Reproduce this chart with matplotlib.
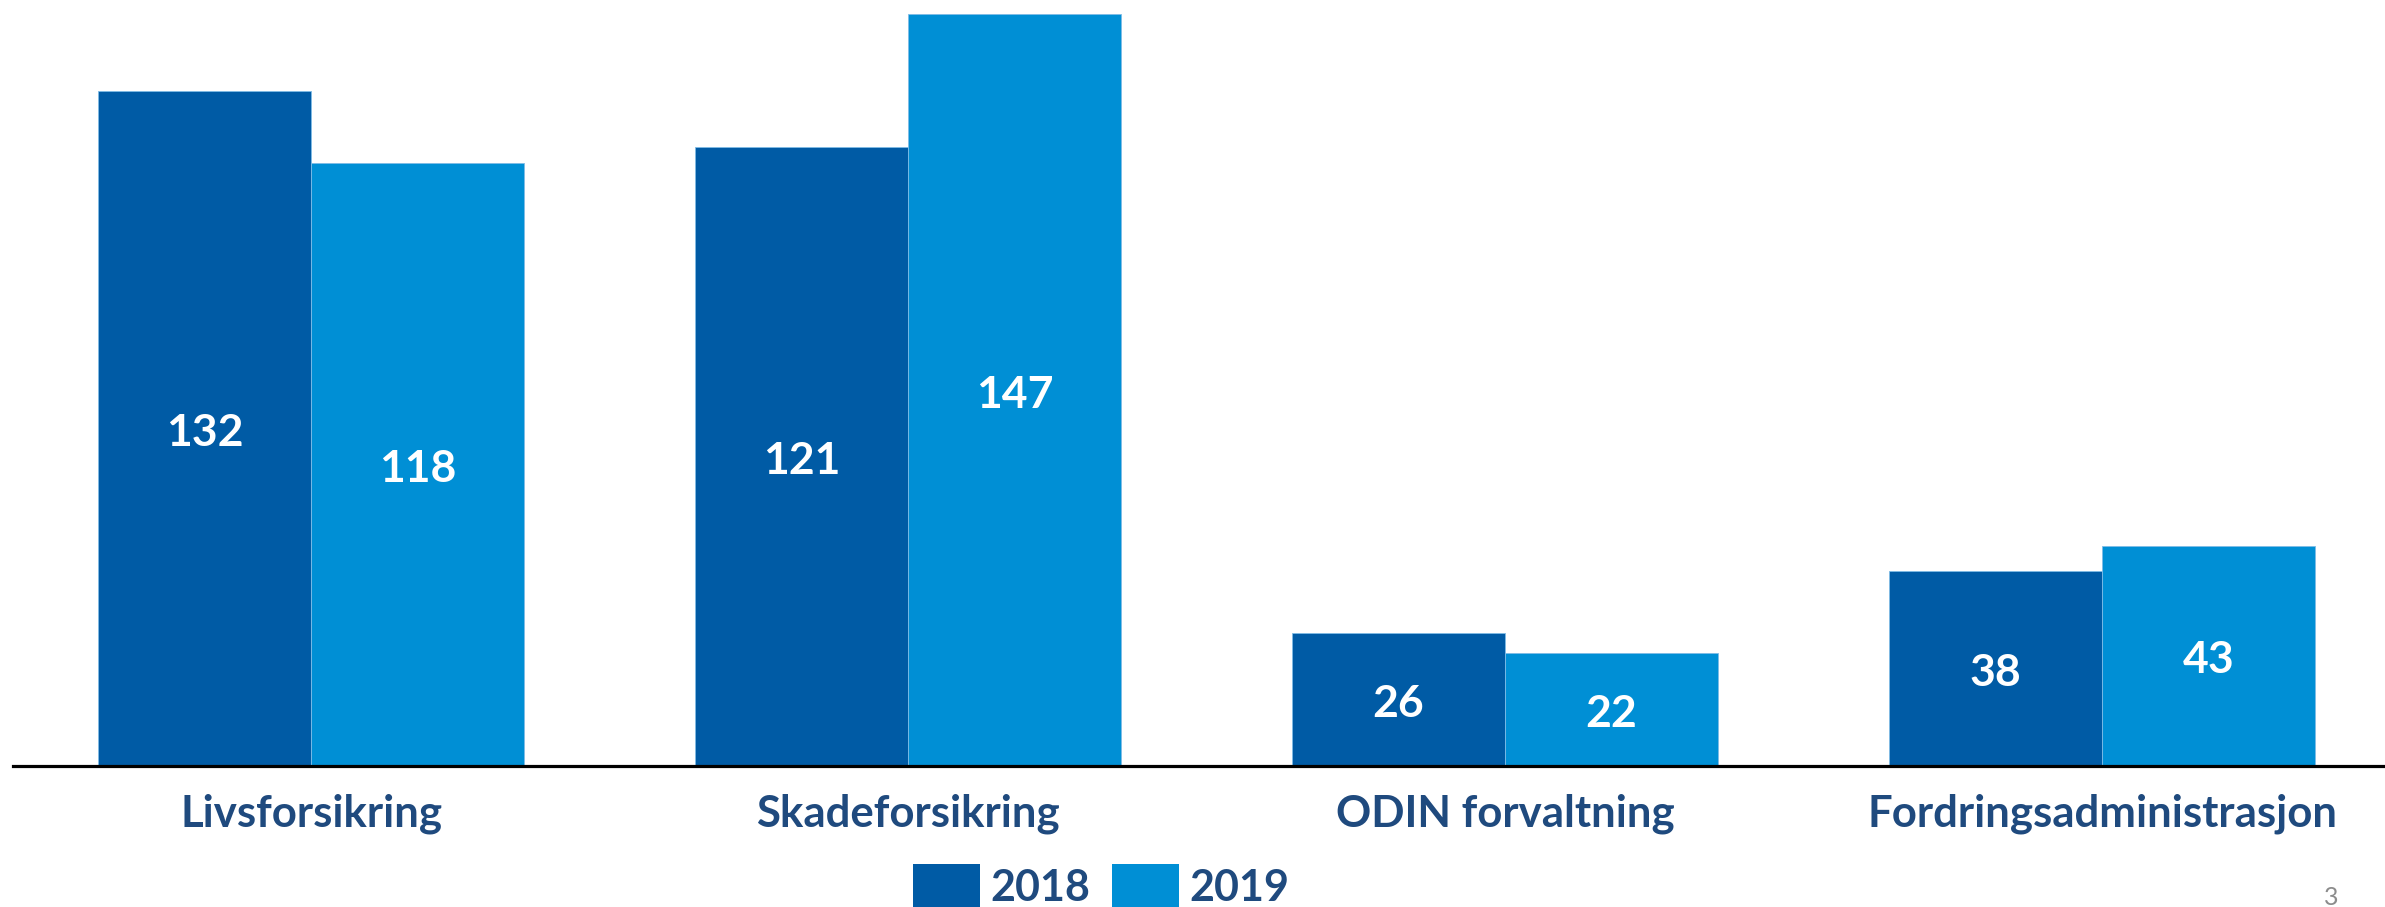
import numpy as np
import matplotlib
matplotlib.use("Agg")
import matplotlib.pyplot as plt
from matplotlib.patches import Patch

# data
categories = ["Livsforsikring", "Skadeforsikring", "ODIN forvaltning", "Fordringsadministrasjon"]
years = ["2018", "2019"]
values_2018 = [132, 121, 26, 38]
values_2019 = [118, 147, 22, 43]

colors = ["#005BA5", "#008FD5"]
text_color = "#1F4A7E"
font = "Lato"

fig = plt.figure(figsize=(23.85, 9.07), dpi=100)
ax = fig.add_axes([12.6 / 2385, 1 - 765.7 / 907, 1 - 12.6 / 2385, 765.7 / 907])

x = np.arange(len(categories))
w = 0.357
for i, (vals, col) in enumerate(zip([values_2018, values_2019], colors)):
    bars = ax.bar(x + (i - 0.5) * w, vals, width=w, color=col,
                  edgecolor="#7fbce6", linewidth=0.6, zorder=2)
    for b, v in zip(bars, vals):
        # label sits a touch below the bar's middle, like the original
        ax.text(b.get_x() + b.get_width() / 2, v / 2 - 0.9, str(v),
                ha="center", va="center", color="white",
                fontsize=32, fontweight="bold", family=font)

ax.set_xlim(-0.5, 3.474)
ax.set_ylim(0, 149.8)
ax.set_yticks([])
ax.set_xticks(x)
ax.set_xticklabels(categories, fontsize=31.5, fontweight="bold",
                   color=text_color, family=font)
ax.tick_params(axis="x", length=0, pad=20)
for s in ["top", "right", "left"]:
    ax.spines[s].set_visible(False)
ax.spines["bottom"].set_linewidth(2.3)
ax.spines["bottom"].set_color("black")
ax.patch.set_alpha(0)

handles = [Patch(facecolor=c, edgecolor="none") for c in colors]
leg = fig.legend(handles, years, loc="center", bbox_to_anchor=(1101.5 / 2385, 0.022),
                 ncol=2, frameon=False, handlelength=1.55, handleheight=1.3,
                 handletextpad=0.25, columnspacing=0.5,
                 prop={"family": font, "weight": "bold", "size": 31})
for t in leg.get_texts():
    t.set_color(text_color)

fig.text(2331 / 2385, 1 - 886 / 907, "3", ha="center", va="top",
         color="#8C8C8C", fontsize=18, family=font)

fig.savefig("out.png", dpi=100)
